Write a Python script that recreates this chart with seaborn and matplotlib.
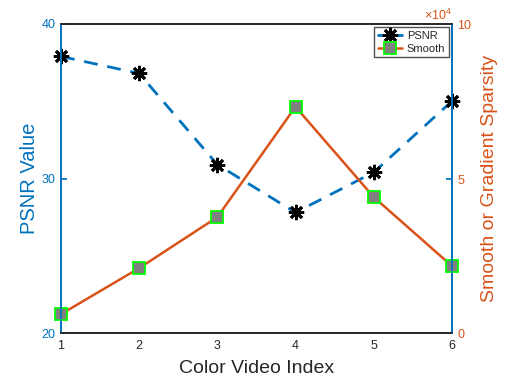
import matplotlib
matplotlib.use("Agg")
import matplotlib.pyplot as plt
import seaborn as sns
import pandas as pd

video_index = [1, 2, 3, 4, 5, 6]
psnr = [37.9, 36.8, 30.9, 27.8, 30.4, 35.0]
smooth = [6100, 21000, 37500, 73200, 44000, 21700]

BLUE = "#0072BD"
ORANGE = "#D95319"
GRAY = "#262626"

sns.set_theme(style="white")
plt.rcParams["font.family"] = ["Liberation Sans", "DejaVu Sans"]
plt.rcParams["mathtext.fontset"] = "custom"
plt.rcParams["mathtext.rm"] = "Liberation Sans"

df = pd.DataFrame({"idx": video_index, "psnr": psnr, "smooth": smooth})

fig = plt.figure(figsize=(5.10, 3.84), dpi=100)
ax = fig.add_axes([0.1196, 0.1328, 0.7664, 0.8047])
ax2 = ax.twinx()

sns.lineplot(data=df, x="idx", y="psnr", ax=ax, color=BLUE,
             linewidth=2.0, dashes=False, marker=(8, 2, 0), markersize=11,
             markeredgecolor="black", markerfacecolor="black",
             markeredgewidth=2.0, label="PSNR", legend=False, clip_on=False)
ax.lines[0].set_dashes((5, 3.5))
sns.lineplot(data=df, x="idx", y="smooth", ax=ax2, color=ORANGE,
             linewidth=1.8, marker="s", markersize=9,
             markerfacecolor="#808080", markeredgecolor="#00FF00",
             markeredgewidth=1.3, label="Smooth", legend=False, clip_on=False)

ax.set_xlim(1, 6)
ax.set_ylim(20, 40)
ax2.set_ylim(0, 100000)
ax.set_xticks(video_index)
ax.set_yticks([20, 30, 40])
ax2.set_yticks([0, 50000, 100000])
ax2.ticklabel_format(axis="y", style="sci", scilimits=(4, 4), useMathText=True)

ax.set_xlabel("Color Video Index", fontsize=14, color=GRAY, labelpad=6)
ax.set_ylabel("PSNR Value", fontsize=14.5, color=BLUE, labelpad=2)
ax2.set_ylabel("Smooth or Gradient Sparsity", fontsize=14, color=ORANGE, labelpad=6)

for a in (ax, ax2):
    for s in a.spines.values():
        s.set_linewidth(1.2)
    a.spines["top"].set_color(GRAY)
    a.spines["bottom"].set_color(GRAY)
    a.spines["left"].set_color(BLUE)
    a.spines["right"].set_color(BLUE)
    a.grid(False)

ax.tick_params(axis="x", direction="in", length=4, colors=GRAY, labelsize=9, pad=5)
ax.tick_params(axis="y", direction="in", length=4, colors=BLUE, labelsize=9, pad=4)
ax2.tick_params(axis="y", direction="in", length=4, color=BLUE,
                labelcolor=ORANGE, labelsize=9, pad=4)
ax2.yaxis.get_offset_text().set_color(ORANGE)
ax2.yaxis.get_offset_text().set_fontsize(9)

h1, l1 = ax.get_legend_handles_labels()
h2, l2 = ax2.get_legend_handles_labels()
leg = ax2.legend(h1 + h2, l1 + l2, loc="upper right", fontsize=8,
                 frameon=True, fancybox=False, edgecolor=GRAY,
                 borderaxespad=0.3, handlelength=2.2, borderpad=0.3,
                 labelspacing=0.3, handletextpad=0.4)
leg.get_frame().set_linewidth(1.0)
for line in leg.get_lines():
    line.set_linestyle("-")

fig.savefig("out.png", dpi=100)
